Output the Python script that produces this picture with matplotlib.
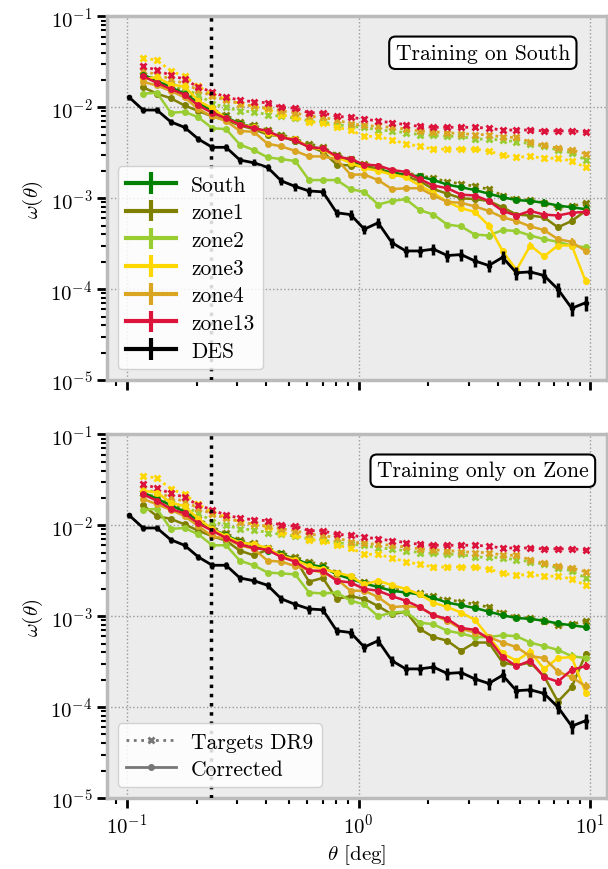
import numpy as np
import matplotlib
matplotlib.use("Agg")
import matplotlib.pyplot as plt

plt.rcParams["font.family"] = ["cmr10", "DejaVu Serif"]
plt.rcParams["mathtext.fontset"] = "cm"
plt.rcParams["axes.formatter.use_mathtext"] = True
plt.rcParams["font.size"] = 15

# angular bins (deg); DES has one more bin at the small-scale end
theta_des = [0.1023, 0.1174, 0.1347, 0.1546, 0.1773, 0.2035, 0.2335, 0.2679,
             0.3074, 0.3527, 0.4046, 0.4642, 0.5327, 0.6112, 0.7012, 0.8046,
             0.9231, 1.059, 1.215, 1.394, 1.600, 1.835, 2.106, 2.416, 2.773,
             3.181, 3.650, 4.188, 4.805, 5.513, 6.324, 7.257, 8.326, 9.552]
theta = theta_des[1:]

# log10 w(theta), DES
log_des = [-1.89, -2.03, -2.03, -2.16, -2.22, -2.35, -2.44, -2.44, -2.58, -2.61,
           -2.66, -2.81, -2.87, -2.92, -2.93, -3.16, -3.18, -3.34, -3.27, -3.49,
           -3.58, -3.58, -3.56, -3.63, -3.62, -3.69, -3.74, -3.65, -3.82, -3.81,
           -3.85, -4.00, -4.21, -4.15]
des_err = [0.07, 0.07, 0.07, 0.07, 0.08, 0.08, 0.08, 0.09, 0.09, 0.09, 0.10,
           0.10, 0.10, 0.11, 0.11, 0.11, 0.12, 0.12, 0.13, 0.13, 0.14, 0.14,
           0.14, 0.15, 0.15, 0.15, 0.16, 0.16, 0.16, 0.17, 0.17, 0.17, 0.18, 0.18]
corr_err = [0.03, 0.03, 0.03, 0.03, 0.03, 0.03, 0.04, 0.04, 0.04, 0.04, 0.04,
            0.05, 0.05, 0.05, 0.05, 0.05, 0.06, 0.06, 0.06, 0.06, 0.07, 0.07,
            0.07, 0.07, 0.08, 0.08, 0.08, 0.08, 0.09, 0.09, 0.09, 0.10, 0.10]

# targets DR9 (same in both panels)
tgt_zone1 = [-1.64, -1.70, -1.76, -1.83, -1.93, -2.02, -2.09, -2.16, -2.20, -2.25,
             -2.30, -2.35, -2.40, -2.44, -2.52, -2.57, -2.62, -2.66, -2.70, -2.72,
             -2.75, -2.78, -2.82, -2.84, -2.87, -2.90, -2.97, -3.01, -3.02, -3.05,
             -3.10, -3.09, -3.05]
tgt_zone2 = [-1.64, -1.69, -1.75, -1.80, -1.86, -1.96, -2.00, -2.04, -2.05, -2.08,
             -2.10, -2.12, -2.15, -2.16, -2.19, -2.21, -2.22, -2.25, -2.26, -2.28,
             -2.30, -2.31, -2.32, -2.32, -2.35, -2.35, -2.36, -2.38, -2.40, -2.43,
             -2.47, -2.50, -2.58]
tgt_zone3 = [-1.46, -1.48, -1.60, -1.66, -1.77, -1.86, -1.91, -1.96, -1.99, -2.02,
             -2.08, -2.11, -2.16, -2.17, -2.22, -2.25, -2.32, -2.32, -2.36, -2.40,
             -2.43, -2.46, -2.46, -2.46, -2.46, -2.48, -2.53, -2.55, -2.54, -2.56,
             -2.56, -2.59, -2.66]
tgt_zone4 = [-1.60, -1.64, -1.69, -1.74, -1.81, -1.88, -1.92, -1.96, -1.99, -2.01,
             -2.04, -2.06, -2.10, -2.11, -2.14, -2.18, -2.20, -2.21, -2.22, -2.24,
             -2.26, -2.27, -2.28, -2.29, -2.30, -2.30, -2.33, -2.33, -2.38, -2.42,
             -2.45, -2.47, -2.51]
tgt_zone13 = [-1.55, -1.59, -1.65, -1.69, -1.78, -1.83, -1.89, -1.92, -1.94, -1.95,
              -2.00, -2.01, -2.06, -2.06, -2.10, -2.11, -2.13, -2.15, -2.17, -2.19,
              -2.21, -2.22, -2.22, -2.22, -2.22, -2.23, -2.25, -2.25, -2.25, -2.26,
              -2.26, -2.26, -2.27]

# corrected, trained on South
south = [-1.64, -1.71, -1.78, -1.85, -1.95, -2.04, -2.11, -2.18, -2.22, -2.28,
         -2.32, -2.37, -2.43, -2.46, -2.54, -2.59, -2.64, -2.68, -2.72, -2.74,
         -2.76, -2.80, -2.85, -2.88, -2.91, -2.95, -2.99, -3.02, -3.03, -3.05,
         -3.08, -3.10, -3.12]
s_zone1 = [-1.78, -1.85, -1.90, -1.98, -2.04, -2.10, -2.14, -2.20, -2.24, -2.30,
           -2.32, -2.37, -2.43, -2.49, -2.63, -2.64, -2.65, -2.68, -2.74, -2.76,
           -2.81, -2.90, -2.95, -3.00, -3.01, -3.03, -3.10, -3.18, -3.19, -3.21,
           -3.32, -3.25, -3.14]
s_zone2 = [-1.85, -1.84, -2.06, -2.05, -2.11, -2.23, -2.24, -2.41, -2.47, -2.55,
           -2.57, -2.59, -2.80, -2.80, -2.80, -2.90, -2.93, -3.07, -3.03, -3.01,
           -3.13, -3.18, -3.29, -3.31, -3.40, -3.41, -3.35, -3.36, -3.41, -3.45,
           -3.48, -3.52, -3.54]
s_zone3 = [-1.69, -1.67, -1.75, -1.77, -1.93, -2.01, -2.12, -2.19, -2.22, -2.28,
           -2.33, -2.35, -2.44, -2.46, -2.55, -2.61, -2.67, -2.70, -2.74, -2.77,
           -2.86, -2.94, -3.04, -3.11, -3.15, -3.30, -3.58, -3.79, -3.52, -3.64,
           -3.52, -3.52, -3.91]
s_zone4 = [-1.72, -1.76, -1.82, -1.89, -2.02, -2.10, -2.15, -2.26, -2.27, -2.40,
           -2.43, -2.48, -2.54, -2.54, -2.57, -2.74, -2.74, -2.80, -2.90, -2.89,
           -2.89, -2.97, -3.04, -3.05, -3.09, -3.14, -3.21, -3.25, -3.31, -3.35,
           -3.45, -3.48, -3.58]
s_zone13 = [-1.66, -1.73, -1.80, -1.86, -1.98, -2.06, -2.12, -2.19, -2.23, -2.26,
            -2.33, -2.36, -2.44, -2.45, -2.54, -2.57, -2.63, -2.64, -2.69, -2.71,
            -2.79, -2.86, -2.89, -2.96, -2.97, -3.03, -3.14, -3.19, -3.14, -3.18,
            -3.19, -3.16, -3.15]

# corrected, trained only on each zone
z_zone1 = [-1.78, -1.90, -1.93, -1.99, -2.06, -2.12, -2.17, -2.28, -2.33, -2.27,
           -2.33, -2.37, -2.62, -2.58, -2.81, -2.78, -2.81, -2.89, -2.98, -2.95,
           -3.14, -3.23, -3.27, -3.38, -3.29, -3.29, -3.51, -3.54, -3.51, -3.66,
           -3.94, -3.78, -3.42]
z_zone2 = [-1.83, -1.82, -2.04, -2.03, -2.10, -2.22, -2.22, -2.39, -2.44, -2.52,
           -2.53, -2.54, -2.74, -2.75, -2.74, -2.83, -2.87, -3.00, -2.96, -2.95,
           -3.07, -3.09, -3.16, -3.19, -3.23, -3.23, -3.21, -3.22, -3.29, -3.33,
           -3.37, -3.44, -3.46]
z_zone3 = [-1.62, -1.64, -1.75, -1.79, -1.93, -2.04, -2.12, -2.19, -2.21, -2.25,
           -2.34, -2.38, -2.45, -2.48, -2.52, -2.56, -2.65, -2.61, -2.66, -2.70,
           -2.76, -2.85, -2.90, -2.96, -3.04, -3.23, -3.41, -3.49, -3.39, -3.58,
           -3.46, -3.45, -3.84]
z_zone4 = [-1.71, -1.77, -1.83, -1.90, -2.01, -2.12, -2.15, -2.22, -2.26, -2.39,
           -2.40, -2.45, -2.49, -2.52, -2.59, -2.72, -2.72, -2.79, -2.90, -2.89,
           -2.90, -2.99, -3.05, -3.14, -3.18, -3.23, -3.29, -3.34, -3.44, -3.46,
           -3.61, -3.67, -3.77]
z_zone13 = [-1.66, -1.73, -1.82, -1.87, -1.98, -2.06, -2.14, -2.21, -2.25, -2.27,
            -2.35, -2.40, -2.50, -2.50, -2.61, -2.63, -2.70, -2.72, -2.78, -2.83,
            -2.90, -2.99, -3.03, -3.13, -3.15, -3.25, -3.45, -3.55, -3.49, -3.67,
            -3.72, -3.59, -3.55]

names = ["South", "zone1", "zone2", "zone3", "zone4", "zone13"]
colors = ["green", "olive", "yellowgreen", "gold", "goldenrod", "crimson"]
targets = [None, tgt_zone1, tgt_zone2, tgt_zone3, tgt_zone4, tgt_zone13]
top_lines = [south, s_zone1, s_zone2, s_zone3, s_zone4, s_zone13]
bottom_lines = [south, z_zone1, z_zone2, z_zone3, z_zone4, z_zone13]
titles = ["Training on South", "Training only on Zone"]

fig = plt.figure(figsize=(6.08, 8.70), dpi=100)
ax_top = fig.add_axes([0.176, 0.562, 0.822, 0.418])
ax_bot = fig.add_axes([0.176, 0.0816, 0.822, 0.418])

for ax, lines, title in zip([ax_top, ax_bot], [top_lines, bottom_lines], titles):
    ax.set_facecolor("#ececec")
    for name, col, tgt in zip(names, colors, targets):
        if tgt is not None:
            ax.plot(theta, 10 ** np.array(tgt), ls=":", lw=2, marker="x",
                    ms=5, mew=2, color=col, zorder=2)
    for name, col, vals in zip(names, colors, lines):
        w = 10 ** np.array(vals)
        ax.errorbar(theta, w, yerr=w * np.array(corr_err), color=col, lw=1.8,
                    marker="o", ms=4, elinewidth=1.5, capsize=0, zorder=3)
    wd = 10 ** np.array(log_des)
    ax.errorbar(theta_des, wd, yerr=wd * np.array(des_err), color="black",
                lw=2, marker="o", ms=3, elinewidth=2.5, capsize=0, zorder=4)
    ax.axvline(0.23, color="black", ls=":", lw=2.5, zorder=5)

    ax.set_xscale("log")
    ax.set_yscale("log")
    ax.set_xlim(0.082, 11.8)
    ax.set_ylim(1e-5, 1e-1)
    ax.grid(True, which="major", ls=":", color="#999999", lw=1)
    for sp in ax.spines.values():
        sp.set_color("#bbbbbb")
        sp.set_linewidth(2.5)
    ax.tick_params(which="major", direction="out", length=7, width=2,
                   color="black", top=False, right=False)
    ax.tick_params(which="minor", direction="out", length=4, width=1.5,
                   color="black", top=False, right=False)
    ax.set_ylabel(r"$\omega(\theta)$")
    ax.text(0.752, 0.9, title, transform=ax.transAxes, ha="center",
            va="center", fontsize=15.5,
            bbox=dict(boxstyle="round,pad=0.3", fc="white", ec="black", lw=1.5))

# legend proxies: line with a vertical error bar, placed outside the view
for name, col in zip(names + ["DES"], colors + ["black"]):
    ax_top.errorbar([100.0], [1.0], yerr=[0.5], color=col, lw=3,
                    elinewidth=3, capsize=0, label=name)
ax_top.tick_params(labelbottom=False)
ax_top.legend(loc="lower left", handlelength=2.3, handletextpad=0.7,
              fontsize=15.5, framealpha=0.85, edgecolor="#cccccc",
              labelspacing=0.38)

h1, = ax_bot.plot([], [], ls=":", lw=2, marker="x", ms=5, mew=2,
                  color="#777777", label="Targets DR9")
h2, = ax_bot.plot([], [], ls="-", lw=2, marker="o", ms=4,
                  color="#777777", label="Corrected")
ax_bot.legend(handles=[h1, h2], loc="lower left", handlelength=2.3,
              handletextpad=0.7, fontsize=15.5, framealpha=0.85,
              edgecolor="#cccccc", labelspacing=0.35)
ax_bot.set_xlabel(r"$\theta$ [deg]")

fig.savefig("out.png", dpi=100)
